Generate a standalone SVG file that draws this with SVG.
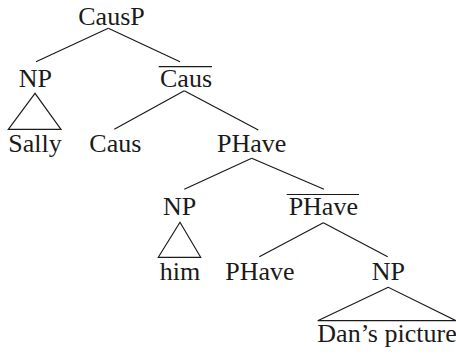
<svg xmlns="http://www.w3.org/2000/svg" width="456" height="354" viewBox="0 0 456 354">
<style>
text{font-family:"Liberation Serif","Times New Roman",serif;font-size:26px;fill:#1a1a1a;text-anchor:middle}
line,polygon{stroke:#1a1a1a;stroke-width:1.2;fill:none}
</style>
<rect width="456" height="354" fill="#fff"/>
<g id="connectors">
<line x1="108.3" y1="28.3" x2="36" y2="61.7"/>
<line x1="108.3" y1="28.3" x2="180" y2="61.7"/>
<line x1="184.3" y1="90.7" x2="114.3" y2="129.3"/>
<line x1="184.3" y1="90.7" x2="258.3" y2="130"/>
<line x1="251.7" y1="158.3" x2="184.3" y2="189.3"/>
<line x1="251.7" y1="158.3" x2="324" y2="189.3"/>
<line x1="323.3" y1="222.7" x2="259.3" y2="256.7"/>
<line x1="323.3" y1="222.7" x2="387.7" y2="256.7"/>
<polygon points="35,93.3 8.3,129.3 61,129.3"/>
<polygon points="180,222.3 158.3,257.3 200.7,257.3"/>
<polygon points="388.3,287.3 317.7,320.7 456,320.7"/>
</g>
<g id="causp"><text x="111.5" y="25">CausP</text></g>
<g id="np1"><text x="35.3" y="87">NP</text></g>
<g id="caus-bar"><line x1="158.7" y1="66.7" x2="212" y2="66.7"/><text x="186" y="87">Caus</text></g>
<g id="sally"><text x="35" y="152">Sally</text></g>
<g id="caus"><text x="115.3" y="152">Caus</text></g>
<g id="phave"><text x="251.7" y="152">PHave</text></g>
<g id="np2"><text x="179.5" y="215">NP</text></g>
<g id="phave-bar"><line x1="286.7" y1="194.5" x2="359" y2="194.5"/><text x="323.3" y="215">PHave</text></g>
<g id="him"><text x="180" y="280">him</text></g>
<g id="phave-head"><text x="260" y="280">PHave</text></g>
<g id="np3"><text x="388.3" y="280">NP</text></g>
<g id="dans-picture"><text x="387" y="341.5">Dan’s picture</text></g>
</svg>
